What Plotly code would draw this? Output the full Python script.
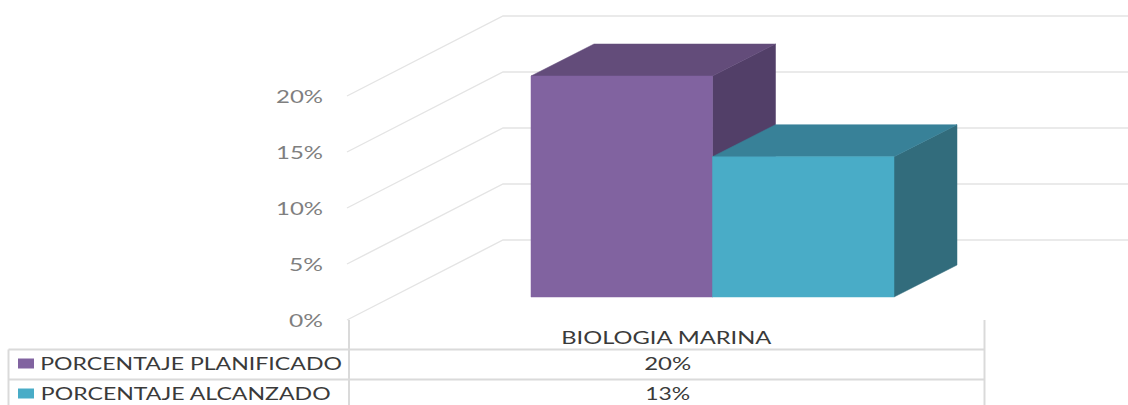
import plotly.graph_objects as go

# ---- data ----
category = "BIOLOGIA MARINA"
series_names = ["PORCENTAJE PLANIFICADO", "PORCENTAJE ALCANZADO"]
series_values = [20, 12.7]
axis_ticks = [0, 5, 10, 15, 20]
axis_labels = ["0%", "5%", "10%", "15%", "20%"]

# ---- colours ----
FRONT = ["#8163A0", "#49ACC7"]
TOP = ["#634C7A", "#388198"]
SIDE = ["#523F68", "#326C7C"]
GRID = "#E4E4E4"
TABLE = "#DADADA"

# ---- geometry (x axis is in pixels; y axis is in percent) ----
W, H = 1128, 405
Y0_PX, PX_PER_PCT = 320.0, 11.2


def y_of(px):
    return (Y0_PX - px) / PX_PER_PCT


WALL_X0, WALL_X1 = 347, 503
WALL_DY = 80 / PX_PER_PCT
RIGHT_END = 1128
BAR_LEFT, BAR_W = 531, 181.5
BAR_DX, BAR_DY = 63, 32 / PX_PER_PCT
BASE = y_of(297)
BAR_SCALE = 221 / (20 * PX_PER_PCT)

fig = go.Figure()


def poly(xs, ys, color, name):
    fig.add_trace(go.Scatter(x=xs, y=ys, mode="lines", fill="toself", fillcolor=color,
                             line=dict(color=color, width=0.5), name=name,
                             showlegend=False, hoverinfo="skip"))


# walls / gridlines
for t in axis_ticks:
    fig.add_trace(go.Scatter(x=[WALL_X0, WALL_X1, RIGHT_END], y=[t, t + WALL_DY, t + WALL_DY],
                             mode="lines", line=dict(color=GRID, width=1.4),
                             showlegend=False, hoverinfo="skip"))

# bars
for i, (name, v) in enumerate(zip(series_names, series_values)):
    x0 = BAR_LEFT + i * BAR_W
    x1 = x0 + BAR_W
    top = BASE + v * BAR_SCALE
    poly([x1, x1 + BAR_DX, x1 + BAR_DX, x1, x1], [BASE, BASE + BAR_DY, top + BAR_DY, top, BASE], SIDE[i], name)
    poly([x0, x1, x1 + BAR_DX, x0 + BAR_DX, x0], [top, top, top + BAR_DY, top + BAR_DY, top], TOP[i], name)
    poly([x0, x1, x1, x0, x0], [BASE, BASE, top, top, BASE], FRONT[i], name)

# data table
tx0, tx1, tx2 = 8.5, 349, 984.5
rows = [349.5, 379.5]
shapes = []
for r in rows:
    shapes.append(dict(type="line", x0=tx0, x1=tx2, y0=y_of(r), y1=y_of(r), line=dict(color=TABLE, width=2)))
shapes.append(dict(type="line", x0=tx0, x1=tx0, y0=y_of(rows[0]), y1=y_of(H), line=dict(color=TABLE, width=2)))
for x in (tx1, tx2):
    shapes.append(dict(type="line", x0=x, x1=x, y0=y_of(320), y1=y_of(H), line=dict(color=TABLE, width=2)))

FONT = "Lato"
TXT = dict(family=FONT, size=17, color="#3A3A3A")
label_centres = [191, 185]
annotations = [dict(x=666, y=y_of(337.5), text=category, showarrow=False, xanchor="center", yanchor="middle", font=TXT)]
for i, (name, v) in enumerate(zip(series_names, series_values)):
    rc = rows[i] + 14
    shapes.append(dict(type="rect", x0=18, x1=34, y0=y_of(rc - 5), y1=y_of(rc + 5),
                       fillcolor=FRONT[i], line=dict(width=0)))
    annotations.append(dict(x=label_centres[i], y=y_of(rc), text=name, showarrow=False, xanchor="center",
                            yanchor="middle", font=TXT))
    annotations.append(dict(x=667, y=y_of(rc), text=f"{round(v)}%", showarrow=False, xanchor="center",
                            yanchor="middle", font=TXT))

fig.update_layout(
    width=W, height=H, margin=dict(l=0, r=0, t=0, b=0),
    paper_bgcolor="white", plot_bgcolor="white", showlegend=False,
    shapes=shapes, annotations=annotations,
    xaxis=dict(range=[0, W], visible=False, fixedrange=True),
    yaxis=dict(range=[y_of(H), y_of(0)], anchor="free", position=WALL_X0 / W,
               tickmode="array", tickvals=axis_ticks, ticktext=axis_labels,
               showgrid=False, zeroline=False, showline=False, ticks="",
               ticklabelstandoff=24, fixedrange=True,
               tickfont=dict(family=FONT, size=17, color="#7F7F7F")),
)

# The reference's text is horizontally stretched; widen the real text to the measured widths.
POST = """
document.body.style.margin='0';
var T={'PORCENTAJE PLANIFICADO':302,'PORCENTAJE ALCANZADO':290,'BIOLOGIA MARINA':211,
'20%':47,'13%':45,'15%':47,'10%':47,'5%':34,'0%':34};
document.querySelectorAll('.annotation-text').forEach(function(e){stretch(e,0.5,0);});
document.querySelectorAll('.ytick text').forEach(function(e){stretch(e,1,1.5);});
function stretch(e,f,dy){
  var b=e.getBBox(), t=T[e.textContent]; if(!t) return;
  var a=b.x+f*b.width, old=e.getAttribute('transform')||'';
  e.setAttribute('transform',old+' translate('+a+','+dy+') scale('+(t/b.width)+',1) translate('+(-a)+',0)');
}
"""
fig.write_html("out.html", post_script=POST, config={"displayModeBar": False})
